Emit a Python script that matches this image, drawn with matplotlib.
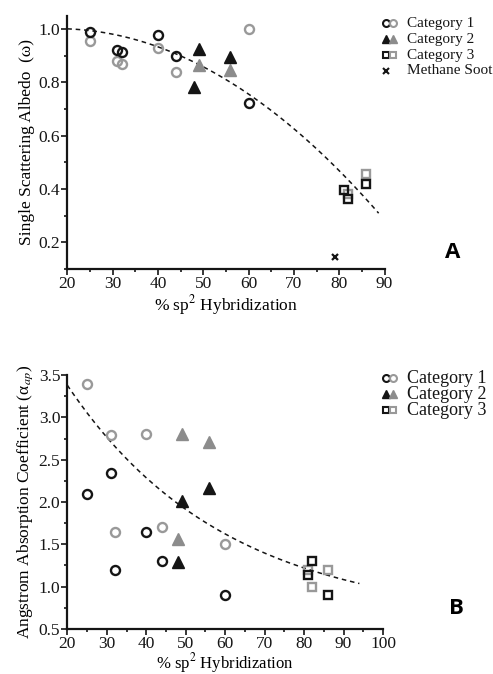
import matplotlib
matplotlib.use("Agg")
import matplotlib.pyplot as plt
from matplotlib.ticker import MultipleLocator, FormatStrFormatter
import numpy as np

plt.rcParams['font.family'] = ['Liberation Serif', 'DejaVu Serif']
plt.rcParams['mathtext.fontset'] = 'stix'

BLACK = '#151515'
GRAY = '#999999'
GRAY_FILL = '#8c8c8c'

# ---- Panel A: single scattering albedo ----
a_c1_black_x = [25, 31, 32, 40, 44, 60]
a_c1_black_y = [0.987, 0.922, 0.912, 0.977, 0.897, 0.723]
a_c1_gray_x = [25, 31, 32, 40, 44, 60]
a_c1_gray_y = [0.953, 0.880, 0.869, 0.930, 0.838, 1.000]
a_c2_black_x = [49, 48, 56]
a_c2_black_y = [0.926, 0.782, 0.896]
a_c2_gray_x = [49, 56]
a_c2_gray_y = [0.865, 0.846]
a_c3_black_x = [81, 82, 86]
a_c3_black_y = [0.397, 0.363, 0.417]
a_c3_gray_x = [82, 86]
a_c3_gray_y = [0.380, 0.455]
a_soot_x = [79]
a_soot_y = [0.146]
# fitted trend: 1 - b (x - 20) - k (x - 20)^2
a_fit_b, a_fit_k = 0.00062, 0.0001374
a_fit_range = (20, 88.7)

# ---- Panel B: Angstrom absorption coefficient ----
b_c1_black_x = [25, 31, 32, 40, 44, 60]
b_c1_black_y = [2.10, 2.34, 1.20, 1.65, 1.30, 0.90]
b_c1_gray_x = [25, 31, 32, 40, 44, 60]
b_c1_gray_y = [3.39, 2.79, 1.65, 2.80, 1.70, 1.50]
b_c2_black_x = [49, 56, 48]
b_c2_black_y = [2.01, 2.17, 1.29]
b_c2_gray_x = [49, 56, 48]
b_c2_gray_y = [2.80, 2.71, 1.56]
b_c3_black_x = [81, 82, 86]
b_c3_black_y = [1.14, 1.30, 0.90]
b_c3_gray_x = [81, 82, 86]
b_c3_gray_y = [1.20, 1.00, 1.20]
# fitted trend: c + a exp(-k (x - 20))
b_fit_c, b_fit_a, b_fit_k = 0.60, 2.78, 0.025
b_fit_range = (20, 94)

fig = plt.figure(figsize=(4.93, 6.74), dpi=100)
ax1 = fig.add_axes([0.1365, 0.601, 0.6435, 0.376])
ax2 = fig.add_axes([0.1365, 0.0668, 0.6405, 0.3768])


def style_axes(ax):
    for side in ['top', 'right']:
        ax.spines[side].set_visible(False)
    for side in ['left', 'bottom']:
        ax.spines[side].set_linewidth(1.6)
        ax.spines[side].set_color(BLACK)
    ax.tick_params(which='both', direction='out', width=1.2, colors=BLACK,
                   labelsize=12.5, pad=1)
    ax.tick_params(which='major', length=4)
    ax.tick_params(which='minor', length=2.5)


def open_marks(ax, x, y, marker, color, size):
    ax.plot(x, y, linestyle='none', marker=marker, markersize=size,
            markerfacecolor='none', markeredgecolor=color, markeredgewidth=1.7)


def filled_marks(ax, x, y, color):
    ax.plot(x, y, linestyle='none', marker='^', markersize=8,
            markerfacecolor=color, markeredgecolor=color)


# Panel A
xf = np.linspace(*a_fit_range, 200)
ax1.plot(xf, 1 - a_fit_b * (xf - 20) - a_fit_k * (xf - 20) ** 2,
         linestyle=(0, (3, 2.5)), color=BLACK, linewidth=1.1)
open_marks(ax1, a_c1_gray_x, a_c1_gray_y, 'o', GRAY, 6.5)
open_marks(ax1, a_c1_black_x, a_c1_black_y, 'o', BLACK, 6.5)
filled_marks(ax1, a_c2_gray_x, a_c2_gray_y, GRAY_FILL)
filled_marks(ax1, a_c2_black_x, a_c2_black_y, BLACK)
open_marks(ax1, a_c3_gray_x, a_c3_gray_y, 's', GRAY, 6)
open_marks(ax1, a_c3_black_x, a_c3_black_y, 's', BLACK, 6)
ax1.plot(a_soot_x, a_soot_y, linestyle='none', marker='x', markersize=5,
         markeredgewidth=1.6, color=BLACK)

ax1.set_xlim(20, 90)
ax1.set_ylim(0.1, 1.05)
ax1.xaxis.set_major_locator(MultipleLocator(10))
ax1.xaxis.set_minor_locator(MultipleLocator(5))
ax1.yaxis.set_minor_locator(MultipleLocator(0.1))
ax1.set_yticks([0.2, 0.4, 0.6, 0.8, 1.0])
ax1.set_yticklabels(['0.2', '0.4', '0.6', '0.8', '1.0'])
style_axes(ax1)
ax1.set_xlabel('% sp$^2$ Hybridization', fontsize=12.5, labelpad=1)
ax1.set_ylabel('Single Scattering Albedo  (ω)', fontsize=12.5, labelpad=3)

# Panel B
xf = np.linspace(*b_fit_range, 200)
ax2.plot(xf, b_fit_c + b_fit_a * np.exp(-b_fit_k * (xf - 20)),
         linestyle=(0, (3, 2.5)), color=BLACK, linewidth=1.1)
open_marks(ax2, b_c1_gray_x, b_c1_gray_y, 'o', GRAY, 6.5)
open_marks(ax2, b_c1_black_x, b_c1_black_y, 'o', BLACK, 6.5)
filled_marks(ax2, b_c2_gray_x, b_c2_gray_y, GRAY_FILL)
filled_marks(ax2, b_c2_black_x, b_c2_black_y, BLACK)
open_marks(ax2, b_c3_gray_x, b_c3_gray_y, 's', GRAY, 6)
open_marks(ax2, b_c3_black_x, b_c3_black_y, 's', BLACK, 6)

ax2.set_xlim(20, 100)
ax2.set_ylim(0.5, 3.5)
ax2.xaxis.set_major_locator(MultipleLocator(10))
ax2.xaxis.set_minor_locator(MultipleLocator(5))
ax2.yaxis.set_major_locator(MultipleLocator(0.5))
ax2.yaxis.set_minor_locator(MultipleLocator(0.25))
ax2.yaxis.set_major_formatter(FormatStrFormatter('%.1f'))
style_axes(ax2)
ax2.set_xlabel('% sp$^2$ Hybridization', fontsize=12, labelpad=-1)
ax2.set_ylabel('Angstrom Absorption Coefficient (α$_{ap}$)', fontsize=12.5,
               labelpad=3)


# legends drawn by hand in figure pixels
def fig_xy(px, py):
    return px / 493, 1 - py / 674


def legend_rows(rows, y0, dy, fontsize, msize):
    for i, (marker, colors, label) in enumerate(rows):
        py = y0 + i * dy
        for j, col in enumerate(colors):
            fx, fy = fig_xy(386 + 6.5 * j, py)
            if marker == '^':
                fig.lines.append(plt.Line2D([fx], [fy], transform=fig.transFigure,
                                            marker='^', markersize=msize + 1,
                                            color=col, linestyle='none'))
            elif marker == 'x':
                fig.lines.append(plt.Line2D([fx], [fy], transform=fig.transFigure,
                                            marker='x', markersize=msize - 1,
                                            markeredgewidth=1.5, color=col,
                                            linestyle='none'))
            else:
                fig.lines.append(plt.Line2D([fx], [fy], transform=fig.transFigure,
                                            marker=marker, markersize=msize,
                                            markerfacecolor='none',
                                            markeredgecolor=col,
                                            markeredgewidth=1.5, linestyle='none'))
        tx, ty = fig_xy(407, py)
        fig.text(tx, ty, label, fontsize=fontsize, va='center', ha='left',
                 color=BLACK)


legend_rows([('o', [BLACK, GRAY], 'Category 1'),
             ('^', [BLACK, GRAY_FILL], 'Category 2'),
             ('s', [BLACK, GRAY], 'Category 3'),
             ('x', [BLACK], 'Methane Soot')], 23, 16, 11, 5)
legend_rows([('o', [BLACK, GRAY], 'Category 1'),
             ('^', [BLACK, GRAY_FILL], 'Category 2'),
             ('s', [BLACK, GRAY], 'Category 3')], 378, 16.2, 13, 5)

fig.text(*fig_xy(453, 253), 'A', fontsize=16, fontweight='bold',
         family='Open Sans', ha='center', va='center')
fig.text(*fig_xy(456, 608), 'B', fontsize=16, fontweight='bold',
         family='Open Sans', ha='center', va='center')

fig.savefig('out.png', dpi=100)
